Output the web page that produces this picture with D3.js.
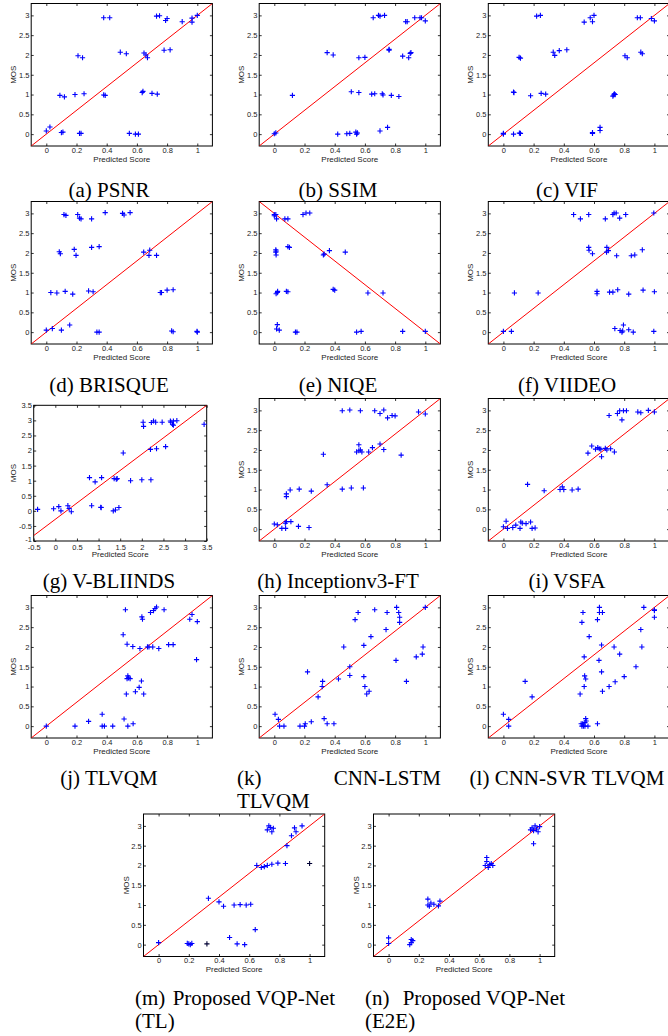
<!DOCTYPE html>
<html>
<head>
<meta charset="utf-8">
<script src="https://cdn.jsdelivr.net/npm/d3@7"></script>
<style>
body { margin: 0; background: #fff; }
svg text { font-family: "Liberation Sans", Arial, sans-serif; fill: #222; }
.cap { font-family: "Liberation Serif", "Times New Roman", serif; font-size: 21px; fill: #000; }
</style>
</head>
<body>
<svg id="fig" width="668" height="1036"></svg>
<script>
// Data: [predicted score, MOS]
const psnr = [[0.0,0.08],[0.024,0.18],[0.10,0.04],[0.11,0.05],[0.09,0.98],[0.12,0.94],[0.19,1.0],[0.25,1.02],
  [0.21,1.98],[0.24,1.93],[0.22,0.02],[0.23,0.02],[0.38,2.94],[0.42,2.94],[0.38,0.99],[0.39,0.98],[0.49,2.07],
  [0.53,2.03],[0.55,0.02],[0.59,0.0],[0.61,0.0],[0.635,1.05],[0.64,1.08],[0.647,2.05],[0.66,2.0],[0.67,1.93],
  [0.70,1.03],[0.735,1.01],[0.73,2.98],[0.75,2.99],[0.78,2.12],[0.82,2.13],[0.79,2.87],[0.80,2.92],[0.90,2.84],
  [0.965,2.93],[0.965,2.83],[1.0,3.0]];
const ssim = [[0.0,0.01],[0.01,0.03],[0.12,0.98],[0.35,2.06],[0.39,2.0],[0.42,0.0],[0.48,0.01],[0.50,0.02],
  [0.54,0.05],[0.545,0.0],[0.55,0.03],[0.51,1.07],[0.56,1.05],[0.56,1.93],[0.60,1.94],[0.70,0.08],[0.75,0.17],
  [0.645,1.01],[0.665,1.02],[0.715,1.02],[0.72,0.99],[0.775,0.98],[0.825,0.95],[0.655,2.94],[0.69,3.0],
  [0.70,2.98],[0.73,3.0],[0.76,2.12],[0.76,2.14],[0.85,1.97],[0.89,1.93],[0.90,2.04],[0.905,2.06],[0.87,2.84],
  [0.88,2.84],[0.93,2.94],[0.965,2.94],[0.975,2.94],[1.0,2.86]];
const vif = [[0.0,0.02],[0.0,0.0],[0.067,0.0],[0.106,0.025],[0.113,0.02],[0.067,1.06],[0.07,1.05],[0.104,1.94],
  [0.113,1.92],[0.18,0.97],[0.22,2.98],[0.245,3.0],[0.25,1.03],[0.28,1.01],[0.33,2.07],[0.34,1.99],[0.37,2.11],
  [0.42,2.13],[0.535,2.83],[0.575,2.94],[0.60,3.0],[0.59,2.84],[0.59,0.04],[0.59,0.02],[0.64,0.17],[0.64,0.09],
  [0.725,0.96],[0.73,0.99],[0.735,1.02],[0.74,1.0],[0.805,1.98],[0.82,1.93],[0.887,2.94],[0.907,2.94],
  [0.91,2.07],[0.92,2.03],[0.98,2.92],[1.0,2.86]];
const brisque = [[0.0,0.05],[0.04,0.09],[0.03,1.0],[0.07,0.99],[0.10,0.05],[0.155,0.18],[0.125,1.03],[0.175,0.96],
  [0.086,2.03],[0.093,1.98],[0.117,2.97],[0.13,2.95],[0.185,2.09],[0.197,1.94],[0.208,2.97],[0.22,2.88],
  [0.23,2.86],[0.28,1.04],[0.31,1.02],[0.30,2.86],[0.30,2.14],[0.35,2.16],[0.335,0.0],[0.35,0.0],[0.39,3.02],
  [0.505,3.0],[0.515,2.96],[0.555,3.02],[0.645,2.02],[0.685,2.07],[0.68,1.94],[0.73,1.94],[0.755,1.0],
  [0.763,1.0],[0.80,1.06],[0.84,1.07],[0.83,0.03],[0.84,0.01],[0.998,0.02],[1.0,0.0]];
const niqe = [[0.0,2.97],[0.01,2.97],[0.015,2.86],[0.0,2.94],[0.07,2.86],[0.09,2.86],[0.19,2.97],[0.21,3.01],
  [0.235,3.01],[0.01,2.08],[0.01,2.02],[0.012,1.95],[0.012,2.05],[0.09,2.16],[0.10,2.14],[0.325,1.95],[0.33,1.97],
  [0.365,2.06],[0.47,2.02],[0.012,0.97],[0.02,1.0],[0.022,1.03],[0.08,1.03],[0.09,1.02],[0.39,1.08],[0.40,1.06],
  [0.62,0.99],[0.72,0.99],[0.015,0.08],[0.02,0.19],[0.033,0.05],[0.14,0.0],[0.15,0.0],[0.545,0.0],[0.575,0.02],
  [0.85,0.02],[1.0,0.02]];
const viideo = [[0.0,0.02],[0.053,0.02],[0.073,0.99],[0.23,0.99],[0.465,2.97],[0.51,2.86],[0.565,2.97],
  [0.565,2.14],[0.567,2.07],[0.59,1.98],[0.62,1.03],[0.62,0.97],[0.675,2.86],[0.725,2.97],[0.733,3.01],
  [0.747,3.01],[0.77,2.88],[0.81,2.97],[0.685,2.14],[0.683,2.02],[0.695,2.06],[0.75,1.93],[0.847,1.93],
  [0.87,1.95],[0.92,2.08],[0.703,1.01],[0.725,1.01],[0.757,1.07],[0.83,0.96],[0.925,1.06],[1.0,1.02],
  [0.738,0.09],[0.773,0.04],[0.785,0.0],[0.79,0.03],[0.795,0.18],[0.83,0.06],[0.86,0.0],[0.996,0.02],[0.996,3.01]];
const vbliinds = [[-0.41,0.05],[-0.04,0.07],[0.08,0.14],[0.13,0.0],[0.29,0.17],[0.32,0.08],[0.37,-0.03],
  [0.79,1.1],[0.92,0.96],[1.07,1.1],[0.84,0.17],[1.05,0.12],[1.06,0.11],[1.34,0.0],[1.39,0.03],[1.47,0.11],
  [1.36,1.07],[1.41,1.05],[1.43,1.07],[1.57,1.92],[1.74,1.0],[2.0,1.03],[2.21,1.03],[2.03,2.94],[2.04,2.8],
  [2.2,2.04],[2.34,2.06],[2.55,2.13],[2.22,2.93],[2.27,2.98],[2.32,2.94],[2.47,2.94],[2.66,2.98],[2.67,2.94],
  [2.71,2.87],[2.73,2.98],[2.73,2.84],[2.81,2.99],[3.44,2.87]];
const inception = [[0.0,0.13],[0.02,0.11],[0.05,0.02],[0.075,0.02],[0.073,0.15],[0.08,0.19],[0.11,0.19],
  [0.16,0.07],[0.23,0.04],[0.08,0.89],[0.08,0.82],[0.105,0.99],[0.165,1.01],[0.245,0.96],[0.325,1.89],
  [0.35,1.12],[0.45,2.99],[0.50,3.01],[0.57,2.99],[0.45,1.01],[0.51,1.04],[0.59,1.04],[0.545,1.95],[0.56,1.98],
  [0.57,2.0],[0.58,1.95],[0.56,2.13],[0.625,1.95],[0.65,2.06],[0.70,2.15],[0.725,2.01],[0.665,2.99],[0.70,2.92],
  [0.725,3.01],[0.75,2.81],[0.78,2.87],[0.80,2.86],[0.84,1.87],[0.955,2.96],[1.0,2.91]];
const vsfa = [[0.0,0.06],[0.018,0.2],[0.027,0.02],[0.062,0.04],[0.082,0.1],[0.11,0.02],[0.115,0.18],[0.125,0.15],
  [0.15,0.14],[0.18,0.18],[0.19,0.02],[0.21,0.03],[0.16,1.13],[0.27,0.97],[0.375,1.0],[0.39,1.07],[0.40,1.0],
  [0.455,0.99],[0.495,1.01],[0.56,1.92],[0.585,2.1],[0.61,2.02],[0.625,2.06],[0.635,2.03],[0.645,2.02],
  [0.65,1.83],[0.675,2.04],[0.685,2.0],[0.71,2.03],[0.735,1.95],[0.70,2.87],[0.755,2.92],[0.77,2.99],
  [0.785,2.76],[0.795,2.99],[0.815,2.99],[0.89,2.96],[0.91,2.94],[0.96,3.0],[1.0,2.96]];
const tlvqm = [[0.0,0.0],[0.19,0.0],[0.28,0.12],[0.37,0.3],[0.37,0.0],[0.385,0.0],[0.44,0.0],[0.515,0.18],
  [0.54,0.0],[0.575,0.06],[0.53,0.81],[0.535,1.2],[0.54,1.27],[0.555,1.2],[0.545,1.22],[0.59,0.87],[0.615,0.98],
  [0.63,1.14],[0.645,0.81],[0.509,2.31],[0.535,2.07],[0.573,2.01],[0.524,2.94],[0.633,2.76],[0.637,2.7],
  [0.62,1.96],[0.67,2.0],[0.68,2.0],[0.705,2.0],[0.745,1.96],[0.69,2.87],[0.71,2.92],[0.72,2.97],[0.73,3.01],
  [0.78,2.94],[0.81,2.06],[0.84,2.06],[0.95,2.7],[0.965,2.82],[1.0,2.64],[0.995,1.68]];
const cnnLstm = [[0.005,0.3],[0.027,0.17],[0.035,0.0],[0.064,0.0],[0.17,0.0],[0.2,0.0],[0.205,0.06],[0.245,0.11],
  [0.22,1.37],[0.29,0.74],[0.317,1.0],[0.32,1.13],[0.33,0.19],[0.35,0.06],[0.395,0.06],[0.425,1.19],[0.46,2.0],
  [0.5,1.5],[0.5,1.28],[0.535,2.69],[0.555,2.87],[0.593,1.25],[0.6,1.0],[0.612,0.81],[0.628,0.88],[0.593,2.04],
  [0.64,2.26],[0.665,2.94],[0.74,2.44],[0.747,2.87],[0.806,1.66],[0.81,3.0],[0.824,2.87],[0.83,2.75],
  [0.83,2.62],[0.875,1.13],[0.94,1.75],[0.98,1.82],[0.985,2.0],[1.0,3.0]];
const cnnSvr = [[0.0,0.3],[0.035,0.17],[0.035,0.0],[0.144,1.13],[0.19,0.74],[0.508,0.81],[0.515,0.06],[0.52,0.0],
  [0.525,0.06],[0.53,0.0],[0.54,0.0],[0.56,0.0],[0.545,0.19],[0.548,0.13],[0.54,0.09],[0.535,1.0],[0.538,1.27],
  [0.545,1.19],[0.535,1.75],[0.527,2.87],[0.52,2.62],[0.568,2.26],[0.623,2.69],[0.623,0.06],[0.636,3.0],
  [0.636,2.87],[0.656,2.87],[0.633,1.66],[0.65,2.05],[0.65,1.37],[0.656,0.88],[0.70,1.0],[0.74,1.12],[0.733,2.0],
  [0.77,1.82],[0.80,1.25],[0.878,1.5],[0.91,2.44],[0.917,2.0],[0.93,3.0],[1.0,2.94],[1.0,2.75],[1.0,2.92]];
const vqpTL = [[0.0,0.05],[0.19,0.03],[0.2,0.02],[0.21,0.0],[0.22,0.03],[0.33,1.17],[0.4,1.08],[0.43,0.97],
  [0.47,0.18],[0.5,1.0],[0.54,1.01],[0.58,1.0],[0.61,1.02],[0.52,0.02],[0.57,0.0],[0.64,0.38],[0.65,2.0],
  [0.68,1.95],[0.7,1.97],[0.72,2.0],[0.75,2.03],[0.79,2.06],[0.84,2.05],[0.72,2.9],[0.73,3.0],[0.74,2.96],
  [0.75,2.85],[0.76,2.94],[0.85,2.5],[0.88,2.75],[0.9,2.95],[0.91,2.85],[0.95,3.0]];
const vqpTLdark = [[0.32,0.02],[1.0,2.05]];
const vqpE2E = [[0.0,0.03],[0.0,0.17],[0.14,0.0],[0.15,0.05],[0.16,0.1],[0.15,0.13],[0.26,1.0],[0.26,1.15],
  [0.27,0.97],[0.28,1.05],[0.3,1.02],[0.33,0.98],[0.34,1.1],[0.64,2.0],[0.65,2.1],[0.66,1.95],[0.67,2.02],
  [0.65,2.2],[0.68,2.05],[0.69,2.0],[0.94,2.9],[0.95,2.95],[0.96,2.88],[0.97,3.0],[0.98,2.92],[0.99,2.85],
  [0.96,2.55],[1.0,2.98]];

const captions = ['(a) PSNR', '(b) SSIM', '(c) VIF', '(d) BRISQUE', '(e) NIQE', '(f) VIIDEO',
  '(g) V-BLIINDS', '(h) Inceptionv3-FT', '(i) VSFA', '(j) TLVQM', ['(k)', 'CNN-LSTM', 'TLVQM'],
  '(l) CNN-SVR TLVQM', ['(m)', 'Proposed VQP-Net', '(TL)'], ['(n)', 'Proposed VQP-Net', '(E2E)']];

const scoreTicks = [0, 0.2, 0.4, 0.6, 0.8, 1];
const mosTicks = [0, 0.5, 1, 1.5, 2, 2.5, 3];
const bliindsTicksX = [-0.5, 0, 0.5, 1, 1.5, 2, 2.5, 3, 3.5];
const bliindsTicksY = [-1, -0.5, 0, 0.5, 1, 1.5, 2, 2.5, 3, 3.5];

const diagLine = [[-0.1, -0.3], [1.1, 3.3]];
const niqeLine = [[-0.1, 3.3], [1.1, -0.3]];
const bliindsLine = [[-0.5, -0.82], [3.5, 3.5]];

const svg = d3.select('#fig');
const W = 181.2, H = 142.5;
const colX = [31.2, 259.2, 488.3];
const rowY = [3.5, 201.5, 398.5, 595.5];
const capCx = [109, 338, 567];
const capBase = [197, 392, 588, 785];

const sets = [psnr, ssim, vif, brisque, niqe, viideo, vbliinds, inception, vsfa, tlvqm, cnnLstm, cnnSvr, vqpTL, vqpE2E];

const panels = sets.map((pts, i) => ({
  pts, left: colX[i % 3], top: rowY[Math.floor(i / 3)] || 0, w: W, h: H,
  xd: [-0.1, 1.1], yd: [-0.3, 3.3], xt: scoreTicks, yt: mosTicks, line: diagLine, pad: 1.6,
  cap: captions[i], capCx: capCx[i % 3], capBase: capBase[Math.floor(i / 3)] || 0
}));
// NIQE runs the other way
panels[4].line = niqeLine;
// V-BLIINDS has its own range
Object.assign(panels[6], { left: 33.7, top: 405.3, w: 173, h: 135.7, xd: [-0.5, 3.5], yd: [-1, 3.5],
  xt: bliindsTicksX, yt: bliindsTicksY, line: bliindsLine, pad: 3.5 });
panels[10].capSpan = [237, 441];
Object.assign(panels[12], { left: 143.5, top: 814, capBase: 1005, capSpan: [135, 335], dark: vqpTLdark });
Object.assign(panels[13], { left: 373.5, top: 814, capBase: 1005, capSpan: [365, 565] });

const plus = 'M-2.6,0H2.6M0,-2.6V2.6';

panels.forEach((p, i) => {
  const g = svg.append('g').attr('transform', `translate(${p.left},${p.top})`);
  const x = d3.scaleLinear().domain(p.xd).range([0, p.w]);
  const y = d3.scaleLinear().domain(p.yd).range([p.h, 0]);

  g.append('clipPath').attr('id', 'clip' + i)
    .append('rect').attr('width', p.w).attr('height', p.h);

  // Axes, ticks pointing inwards on all four sides
  const fmt = d => String(d);
  const axB = g.append('g').attr('transform', `translate(0,${p.h})`)
    .call(d3.axisBottom(x).tickValues(p.xt).tickSize(-2.5).tickPadding(p.pad).tickFormat(fmt));
  const axL = g.append('g')
    .call(d3.axisLeft(y).tickValues(p.yt).tickSize(-2.5).tickPadding(1.8).tickFormat(fmt));
  const axT = g.append('g')
    .call(d3.axisTop(x).tickValues(p.xt).tickSize(-2.5).tickFormat(''));
  const axR = g.append('g').attr('transform', `translate(${p.w},0)`)
    .call(d3.axisRight(y).tickValues(p.yt).tickSize(-2.5).tickFormat(''));
  [axB, axL, axT, axR].forEach(a => {
    a.select('.domain').remove();
    a.selectAll('line').attr('stroke', '#000').attr('stroke-width', 0.8);
    a.selectAll('text').attr('font-size', 7.5).attr('fill', '#222')
      .attr('font-family', '"Liberation Sans", Arial, sans-serif');
  });
  // lowest y label sits a little high so it clears the first x label
  axL.selectAll('text').filter(d => d === -1).attr('dy', '0em');

  g.append('rect').attr('width', p.w).attr('height', p.h)
    .attr('fill', 'none').attr('stroke', '#000').attr('stroke-width', 1);

  // Reference line
  g.append('line').attr('clip-path', `url(#clip${i})`)
    .attr('x1', x(p.line[0][0])).attr('y1', y(p.line[0][1]))
    .attr('x2', x(p.line[1][0])).attr('y2', y(p.line[1][1]))
    .attr('stroke', '#ff0000').attr('stroke-width', 1);

  // Markers
  g.selectAll('.pt').data(p.pts).enter().append('path')
    .attr('class', 'pt')
    .attr('transform', d => `translate(${x(d[0])},${y(d[1])})`)
    .attr('d', plus).attr('stroke', '#0000ff').attr('stroke-width', 1.1).attr('fill', 'none');
  if (p.dark) {
    g.selectAll('.dk').data(p.dark).enter().append('path')
      .attr('class', 'dk')
      .attr('transform', d => `translate(${x(d[0])},${y(d[1])})`)
      .attr('d', plus).attr('stroke', '#000033').attr('stroke-width', 1.1).attr('fill', 'none');
  }

  // Axis labels
  g.append('text').attr('x', p.w / 2).attr('y', p.h + 15.8)
    .attr('text-anchor', 'middle').attr('font-size', 8).text('Predicted Score');
  g.append('text').attr('transform', `translate(${i === 6 ? -18 : -15},${p.h / 2}) rotate(-90)`)
    .attr('text-anchor', 'middle').attr('font-size', 8).text('MOS');

  // Sub-caption
  if (Array.isArray(p.cap)) {
    const [a, b, c] = p.cap;
    svg.append('text').attr('class', 'cap').attr('x', p.capSpan[0]).attr('y', p.capBase).text(a);
    svg.append('text').attr('class', 'cap').attr('x', p.capSpan[1]).attr('y', p.capBase)
      .attr('text-anchor', 'end').text(b);
    svg.append('text').attr('class', 'cap').attr('x', p.capSpan[0]).attr('y', p.capBase + 23).text(c);
  } else {
    svg.append('text').attr('class', 'cap').attr('x', p.capCx).attr('y', p.capBase)
      .attr('text-anchor', 'middle').text(p.cap);
  }
});
</script>
</body>
</html>
